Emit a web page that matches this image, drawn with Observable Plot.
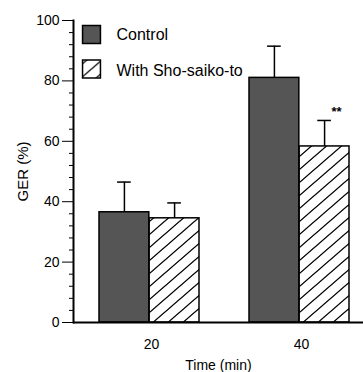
<!DOCTYPE html>
<html>
<head>
<meta charset="utf-8">
<script src="https://cdn.jsdelivr.net/npm/d3@7"></script>
<script src="https://cdn.jsdelivr.net/npm/@observablehq/plot@0.6"></script>
<style>
  html, body { margin: 0; padding: 0; background: #fff; }
  svg { display: block; }
</style>
</head>
<body>
<div id="chart"></div>
<script>
// ---- data ----
const times = ["20", "40"];
const series = ["Control", "With Sho-saiko-to"];
const controlMean = [36.5, 81.0];
const controlErr = [10.0, 10.5];
const shoMean = [34.5, 58.3];
const shoErr = [5.1, 8.6];
const shoSig = ["", "**"];
const majorTicks = [0, 20, 40, 60, 80, 100];
const minorTicks = d3.range(0, 101, 4).filter(v => v % 20 !== 0);

const control = times.map((t, i) => ({time: t, series: series[0], value: controlMean[i], err: controlErr[i]}));
const sho = times.map((t, i) => ({time: t, series: series[1], value: shoMean[i], err: shoErr[i], sig: shoSig[i]}));

const W = 363, H = 372;
const margin = {left: 73, right: 0, top: 20, bottom: 50};
const xOpts = {type: "band", domain: times, range: [margin.left, W - margin.right],
  paddingInner: 1/3, paddingOuter: 0.13, align: 0.64};
const bw = Plot.scale({x: xOpts}).bandwidth;
const half = bw / 2;
const capW = 14;
const capInset = (bw - capW) / 2;
const dark = "#555555";
const hatch = "url(#hatch)";

const errTop = d => d.value + d.err;

const plot = Plot.plot({
  width: W,
  height: H,
  marginLeft: margin.left,
  marginRight: margin.right,
  marginTop: margin.top,
  marginBottom: margin.bottom,
  style: {fontFamily: "'Liberation Sans', Arial, Helvetica, sans-serif", fontSize: "14px", color: "black", background: "white"},
  x: {...xOpts, label: null},
  y: {domain: [0, 100], label: null},
  marks: [
    // error bars (behind bars)
    Plot.ruleX(control, {x: "time", y1: "value", y2: errTop, dx: -half / 2, stroke: "black", strokeWidth: 1.5}),
    Plot.tickY(control, {x: "time", y: errTop, dx: -half / 2, insetLeft: capInset, insetRight: capInset, stroke: "black", strokeWidth: 1.5}),
    Plot.ruleX(sho, {x: "time", y1: "value", y2: errTop, dx: half / 2, stroke: "black", strokeWidth: 1.5}),
    Plot.tickY(sho, {x: "time", y: errTop, dx: half / 2, insetLeft: capInset, insetRight: capInset, stroke: "black", strokeWidth: 1.5}),
    // bars
    Plot.barY(control, {x: "time", y: "value", insetRight: half, fill: dark, stroke: "black", strokeWidth: 1.5}),
    Plot.barY(sho, {x: "time", y: "value", insetLeft: half, fill: hatch, stroke: "black", strokeWidth: 1.5}),
    // significance
    Plot.text(sho, {x: "time", y: errTop, text: "sig", dx: half / 2 + 12, dy: -9, fontSize: 13, fontWeight: "bold"}),
    // axes lines
    Plot.frame({anchor: "left", strokeWidth: 2}),
    Plot.ruleY([0], {strokeWidth: 2}),
    // y axis ticks
    Plot.axisY(majorTicks, {tickSize: 11, tickPadding: 3, fontSize: 14, label: null}),
    Plot.axisY(minorTicks, {tickSize: 4, tickFormat: () => "", label: null}),
    Plot.axisX({tickSize: 0, tickPadding: 17, fontSize: 14, dx: 2, label: null}),
    // axis titles
    Plot.text(["GER (%)"], {frameAnchor: "left", text: d => d, rotate: -90, dx: -50, fontSize: 15, textAnchor: "middle", lineAnchor: "middle"}),
    Plot.text(["Time (min)"], {frameAnchor: "bottom", text: d => d, dy: 43, fontSize: 14, textAnchor: "middle", lineAnchor: "middle"}),
    // legend
    Plot.dot([series[0]], {frameAnchor: "top-left", dx: 18, dy: 14, symbol: "square", r: 10.1, fill: dark, stroke: "black", strokeWidth: 1.5}),
    Plot.text([series[0]], {frameAnchor: "top-left", text: d => d, dx: 43, dy: 14, textAnchor: "start", lineAnchor: "middle", fontSize: 16}),
    Plot.dot([series[1]], {frameAnchor: "top-left", dx: 18, dy: 48.5, symbol: "square", r: 10.1, fill: hatch, stroke: "black", strokeWidth: 1.5}),
    Plot.text([series[1]], {frameAnchor: "top-left", text: d => d, dx: 43, dy: 50, textAnchor: "start", lineAnchor: "middle", fontSize: 16})
  ]
});

const svgEl = plot.tagName.toLowerCase() === "svg" ? plot : plot.querySelector("svg");
d3.select(svgEl).insert("defs", ":first-child").html(
  `<pattern id="hatch" patternUnits="userSpaceOnUse" width="15" height="13">
     <rect width="15" height="13" fill="white"/>
     <path d="M0,13 L15,0 M-3,2.6 L3,-2.6 M12,15.6 L18,10.4" stroke="black" stroke-width="1.3"/>
   </pattern>`
);
document.getElementById("chart").appendChild(plot);
</script>
</body>
</html>
